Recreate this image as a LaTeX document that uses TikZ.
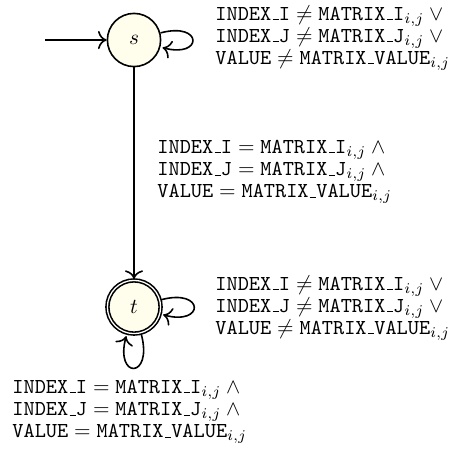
\documentclass[tikz,border=0pt]{standalone}
\usetikzlibrary{automata,arrows.meta}
\newcommand{\ub}{\leavevmode\kern.06em\vbox{\hrule width.3em height .5pt}}
\newcommand{\tx}[1]{\texttt{#1}}
\begin{document}
\begin{tikzpicture}[x=0.47pt,y=0.47pt,>={To[scale=1.25]},
  st/.style={state, draw, line width=0.75pt, fill=yellow!7, minimum size=25pt, inner sep=0pt},
  lbl/.style={anchor=west, align=left, inner sep=0pt},
  conn/.style={->, line width=0.75pt}]
\useasboundingbox (0,0) rectangle (455,-451);
\node[st] (s) at (134,-40) {$s$};
\node[st, accepting] (t) at (134,-307) {$t$};
\coordinate (init) at (45,-40);
\draw[conn] (init) -- (s);
\draw[conn] (s) -- (t);
\path[conn] (s) edge[loop right] (s);
\path[conn] (t) edge[loop right] (t);
\draw[conn, shorten >=1pt] (t.-75) .. controls +(-75:22pt) and +(-105:22pt) .. (t.-105);
\node[lbl] (l1) at (215,-38) {$\tx{INDEX\ub I} \neq \tx{MATRIX\ub I}_{i,j} \vee{}$\\[-1.6pt]
$\tx{INDEX\ub J} \neq \tx{MATRIX\ub J}_{i,j} \vee{}$\\[-1.6pt]
$\tx{VALUE} \neq \tx{MATRIX\ub VALUE}_{i,j}$};
\node[lbl] (l2) at (157,-172) {$\tx{INDEX\ub I} = \tx{MATRIX\ub I}_{i,j} \wedge{}$\\[-1.6pt]
$\tx{INDEX\ub J} = \tx{MATRIX\ub J}_{i,j} \wedge{}$\\[-1.6pt]
$\tx{VALUE} = \tx{MATRIX\ub VALUE}_{i,j}$};
\node[lbl] (l3) at (215,-308) {$\tx{INDEX\ub I} \neq \tx{MATRIX\ub I}_{i,j} \vee{}$\\[-1.6pt]
$\tx{INDEX\ub J} \neq \tx{MATRIX\ub J}_{i,j} \vee{}$\\[-1.6pt]
$\tx{VALUE} \neq \tx{MATRIX\ub VALUE}_{i,j}$};
\node[lbl] (l4) at (12,-412) {$\tx{INDEX\ub I} = \tx{MATRIX\ub I}_{i,j} \wedge{}$\\[-1.6pt]
$\tx{INDEX\ub J} = \tx{MATRIX\ub J}_{i,j} \wedge{}$\\[-1.6pt]
$\tx{VALUE} = \tx{MATRIX\ub VALUE}_{i,j}$};
\end{tikzpicture}
\end{document}
